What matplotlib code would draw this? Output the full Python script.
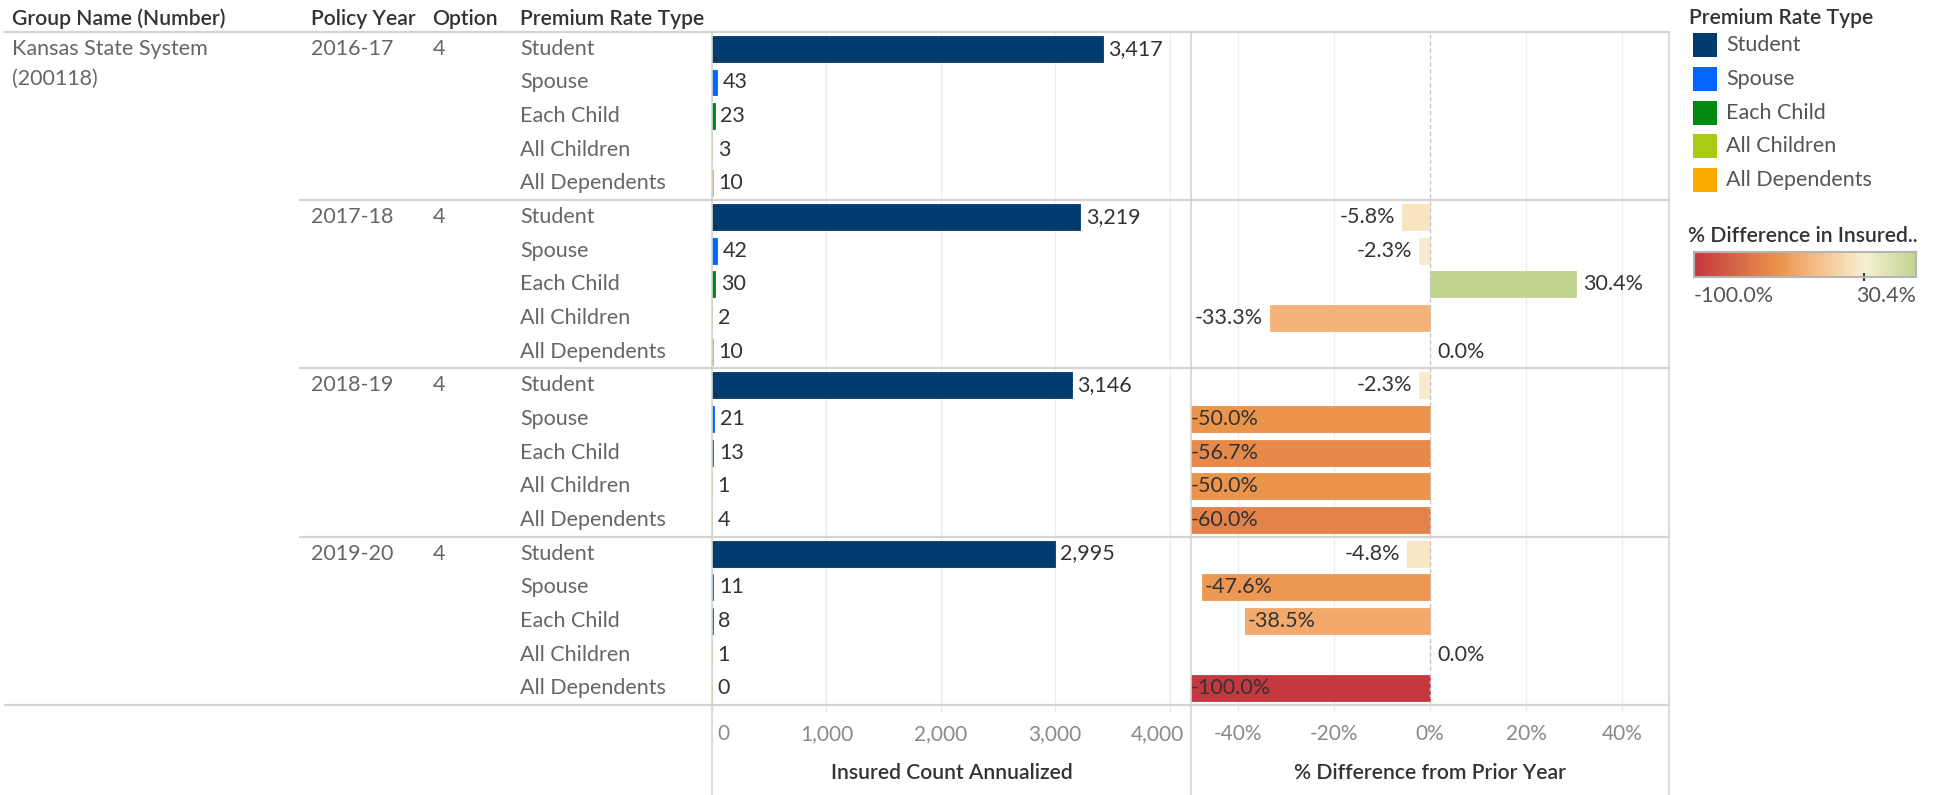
import numpy as np
import matplotlib
matplotlib.use('Agg')
import matplotlib.pyplot as plt
from matplotlib.colors import LinearSegmentedColormap, Normalize
from matplotlib.lines import Line2D
from matplotlib.patches import Rectangle
from matplotlib.transforms import ScaledTranslation

plt.rcParams['font.family'] = ['Lato', 'DejaVu Sans']

# ---------------- data ----------------
group_name = ['Kansas State System', '(200118)']
policy_years = ['2016-17', '2017-18', '2018-19', '2019-20']
options = ['4', '4', '4', '4']
rate_types = ['Student', 'Spouse', 'Each Child', 'All Children', 'All Dependents']
type_colors = ['#023b6e', '#0066ff', '#008a10', '#a9cb16', '#fdaa00']

count_2016 = [3417, 43, 23, 3, 10]
count_2017 = [3219, 42, 30, 2, 10]
count_2018 = [3146, 21, 13, 1, 4]
count_2019 = [2995, 11, 8, 1, 0]

pct_2016 = [np.nan, np.nan, np.nan, np.nan, np.nan]
pct_2017 = [-5.8, -2.3, 30.4, -33.3, 0.0]
pct_2018 = [-2.3, -50.0, -56.7, -50.0, -60.0]
pct_2019 = [-4.8, -47.6, -38.5, 0.0, -100.0]

count_ticks = [0, 1000, 2000, 3000, 4000]
pct_ticks = [-40, -20, 0, 20, 40]

counts = count_2016 + count_2017 + count_2018 + count_2019
pcts = pct_2016 + pct_2017 + pct_2018 + pct_2019
n = len(counts)
rows = np.arange(n)
bar_colors = [type_colors[i % 5] for i in range(n)]

# diverging colour scale
cmap = LinearSegmentedColormap.from_list('div', [
    (0.0, '#c4393f'), (0.307, '#e3834b'), (0.383, '#eb944c'),
    (0.472, '#f2a96c'), (0.512, '#f4b37a'), (0.722, '#f9e4c1'),
    (0.767, '#f7f0d5'), (1.0, '#c1d590')])
valid = [p for p in pcts if not np.isnan(p)]
vmin, vmax = min(valid), max(valid)
norm = Normalize(vmin, vmax)

# ---------------- layout ----------------
W, H = 1942, 795
fig = plt.figure(figsize=(W / 100, H / 100), dpi=100)


def fx(p):
    return p / W


def fy(p):
    return 1 - p / H


TOP, BOT = 32, 705
L1, L2, R2 = 712, 1191, 1669
GRID = '#ededed'
LINE = '#d4d4d4'
HDR = '#333333'
ROWC = '#666666'
HFS = 15.2

ax1 = fig.add_axes([fx(L1), fy(BOT), (L2 - L1) / W, (BOT - TOP) / H])
ax2 = fig.add_axes([fx(L2), fy(BOT), (R2 - L2) / W, (BOT - TOP) / H], sharey=ax1)
lab = fig.add_axes([0, fy(BOT), L1 / W, (BOT - TOP) / H], sharey=ax1)
ax1.set_ylim(n - 0.5, -0.5)
lab.set_xlim(0, L1)
lab.axis('off')

# ---- left panel: insured count ----
ax1.barh(rows, counts, height=0.77, color=bar_colors, edgecolor=bar_colors,
         linewidth=0.6, zorder=2)
ax1.set_xlim(0, 4187)
ax1.set_xticks(count_ticks)
ax1.set_xticklabels([f'{t:,}' for t in count_ticks])
for t in count_ticks:
    ax1.axvline(t, color=GRID, lw=1, zorder=0)
for i, v in enumerate(counts):
    ax1.annotate(f'{v:,}', xy=(v, i), xytext=(4, 0), textcoords='offset points',
                 va='center', ha='left', fontsize=15.5, color=HDR)

# ---- right panel: % difference ----
pc_colors = [cmap(norm(p)) if not np.isnan(p) else (0, 0, 0, 0) for p in pcts]
pvals = [0 if np.isnan(p) else p for p in pcts]
mask = [not np.isnan(p) for p in pcts]
ax2.barh(rows[mask], np.array(pvals)[mask], height=0.77,
         color=np.array(pc_colors)[mask], edgecolor=np.array(pc_colors)[mask],
         linewidth=0.6, zorder=2)
ax2.set_xlim(-49.8, 49.8)
ax2.set_xticks(pct_ticks)
ax2.set_xticklabels([f'{t}%' for t in pct_ticks])
for t in pct_ticks:
    if t == 0:
        ax2.axvline(t, color='#c4c4c4', lw=1, ls=(0, (3, 2)), zorder=3)
    else:
        ax2.axvline(t, color=GRID, lw=1, zorder=0)

renderer = fig.canvas.get_renderer()
left_edge = ax2.get_window_extent(renderer).x0
xl0 = ax2.get_xlim()[0]
for i, p in enumerate(pcts):
    if np.isnan(p):
        continue
    s = f'{p:.1f}%'
    if p >= 0:
        ax2.annotate(s, xy=(p, i), xytext=(5, 0), textcoords='offset points',
                     va='center', ha='left', fontsize=15.5, color=HDR,
                     annotation_clip=False)
    else:
        t = ax2.annotate(s, xy=(p, i), xytext=(-5, 0), textcoords='offset points',
                         va='center', ha='right', fontsize=15.5, color=HDR,
                         annotation_clip=False)
        bb = t.get_window_extent(renderer)
        if bb.x0 < left_edge:
            t.remove()
            x = max(p, xl0)
            ax2.annotate(s, xy=(x, i), xytext=(2 if p > xl0 else 0, 0),
                         textcoords='offset points', va='center', ha='left',
                         fontsize=15.5, color=HDR)

for ax in (ax1, ax2):
    for sp in ax.spines.values():
        sp.set_visible(False)
    ax.tick_params(axis='y', left=False, labelleft=False)
    ax.tick_params(axis='x', length=5, width=1, color='#e6e6e6', pad=9,
                   labelsize=15, labelcolor='#8a8a8a')
    ax.set_facecolor('none')

# shift edge tick labels inward like the reference
lbls = ax1.get_xticklabels()
lbls[0].set_transform(lbls[0].get_transform() + ScaledTranslation(0.11, 0, fig.dpi_scale_trans))
lbls[-1].set_transform(lbls[-1].get_transform() + ScaledTranslation(-0.12, 0, fig.dpi_scale_trans))

ax1.set_xlabel('Insured Count Annualized', fontsize=HFS, fontweight='semibold', color=HDR)
ax2.set_xlabel('% Difference from Prior Year', fontsize=HFS, fontweight='semibold', color=HDR)
for ax in (ax1, ax2):
    ax.xaxis.set_label_coords(0.5, -(773 - BOT) / (BOT - TOP))
    ax.xaxis.label.set_va('center')

# ---- separators ----
seps = [4.5, 9.5, 14.5]
for ax in (ax1, ax2):
    for y in seps:
        ax.axhline(y, color=LINE, lw=1.6, zorder=4, clip_on=False)
    ax.axhline(-0.5, color=LINE, lw=1.6, zorder=4, clip_on=False)
    ax.axhline(n - 0.5, color=LINE, lw=1.6, zorder=4, clip_on=False)
lab.hlines(seps, 299, L1, color=LINE, lw=1.6, clip_on=False)
lab.hlines([-0.5, n - 0.5], 4, L1, color=LINE, lw=1.6, clip_on=False)
for xp in (L1, L2, R2):
    fig.add_artist(Line2D([fx(xp), fx(xp)], [fy(TOP), 0], color=LINE, lw=1.2))

# ---- row header text ----
lab.text(12, 0, group_name[0], va='center', ha='left', fontsize=15.5, color=ROWC)
lab.text(12, 0.9, group_name[1], va='center', ha='left', fontsize=15.5, color=ROWC)
for g, (yr, op) in enumerate(zip(policy_years, options)):
    lab.text(311, g * 5, yr, va='center', ha='left', fontsize=15.5, color=ROWC)
    lab.text(433, g * 5, op, va='center', ha='left', fontsize=15.5, color=ROWC)
for i in range(n):
    lab.text(520, i, rate_types[i % 5], va='center', ha='left', fontsize=15.5, color=ROWC)

hdr_kw = dict(va='center', ha='left', fontsize=HFS, fontweight='semibold', color=HDR)
fig.text(fx(12), fy(19), 'Group Name (Number)', **hdr_kw)
fig.text(fx(311), fy(19), 'Policy Year', **hdr_kw)
fig.text(fx(432), fy(19), 'Option', **hdr_kw)
fig.text(fx(520), fy(19), 'Premium Rate Type', **hdr_kw)

# ---- legend: colour ----
fig.text(fx(1689), fy(18), 'Premium Rate Type', **hdr_kw)
for k, (name, col) in enumerate(zip(rate_types, type_colors)):
    y0 = 33 + k * 33.8
    fig.add_artist(Rectangle((fx(1693), fy(y0 + 24)), 24 / W, 24 / H,
                             transform=fig.transFigure, facecolor=col, edgecolor='none'))
    fig.text(fx(1726), fy(y0 + 12), name, va='center', ha='left', fontsize=15.5,
             color='#555555')

# ---- legend: diverging scale ----
fig.text(fx(1688), fy(236), '% Difference in Insured..', **hdr_kw)
cax = fig.add_axes([fx(1694), fy(277), 222 / W, 25 / H])
cax.imshow(np.linspace(vmin, vmax, 512)[None, :], aspect='auto', cmap=cmap, norm=norm,
           extent=[vmin, vmax, 0, 1])
cax.set_xlim(vmin, vmax)
cax.set_yticks([])
cax.set_xticks([0])
cax.tick_params(axis='x', length=6, width=1.5, color='#333333', direction='inout',
                labelbottom=False)
for sp in cax.spines.values():
    sp.set_color('#b5b5b5')
    sp.set_linewidth(1.5)
fig.text(fx(1694), fy(296), f'{vmin:.1f}%', va='center', ha='left', fontsize=15.5,
         color='#555555')
fig.text(fx(1916), fy(296), f'{vmax:.1f}%', va='center', ha='right', fontsize=15.5,
         color='#555555')

fig.savefig('out.png', dpi=100)
